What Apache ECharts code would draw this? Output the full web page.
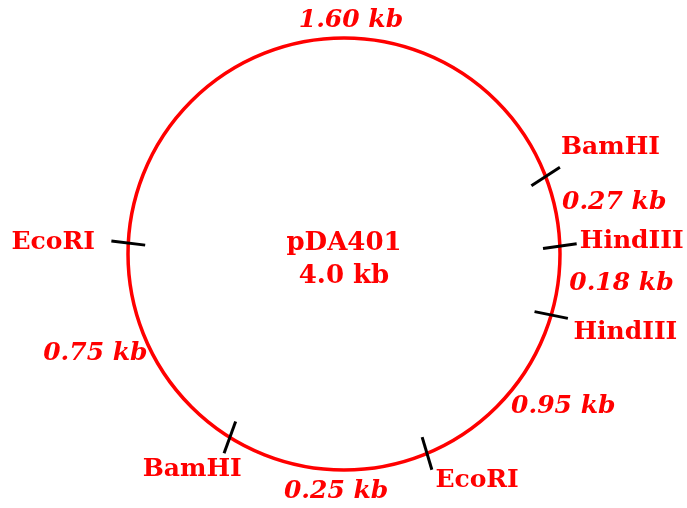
<!DOCTYPE html>
<html>
<head>
<meta charset="utf-8">
<script src="https://cdn.jsdelivr.net/npm/echarts@6/dist/echarts.min.js"></script>
<style>html,body{margin:0;padding:0;background:#fff}#c{width:687px;height:508px}</style>
</head>
<body>
<div id="c"></div>
<script>
// Plasmid data
const plasmidName = 'pDA401';
const plasmidSize = '4.0 kb';
// restriction sites: name and map position (degrees clockwise from 3 o'clock, as drawn)
const siteNames = ['BamHI', 'HindIII', 'HindIII', 'EcoRI', 'BamHI', 'EcoRI'];
const siteAngles = [339.0, 357.9, 16.4, 67.4, 121.9, 182.9];
// fragment lengths between sites
const fragmentLabels = ['0.27 kb', '0.18 kb', '0.95 kb', '0.25 kb', '0.75 kb', '1.60 kb'];

// layout (label placement in polar terms: radius px, angle deg)
const siteLabelPos = [[287, 338.2], [288, 357.6], [292, 15.5], [263, 59.6], [264, 125.1], [291, 182.2]];
const fragLabelPos = [[275, 349.3], [279, 6.0], [267, 34.8], [238, 91.9], [268, 158.1], [234, 271.7]];
const tickTilt = [-12, -6, -5, 6, -12, 4];

const R = 216;
const red = '#ff0000';
const nameFont = 'bold 25px "DejaVu Serif"';
const fragFont = 'italic bold 25px "DejaVu Serif"';

const chart = echarts.init(document.getElementById('c'), null, {renderer: 'canvas'});
chart.setOption({
  animation: false,
  backgroundColor: '#fff',
  polar: {center: [344, 254], radius: R},
  angleAxis: {
    type: 'value', min: 0, max: 360, startAngle: 0, clockwise: true,
    axisLine: {show: true, lineStyle: {color: red, width: 3.5}},
    axisTick: {show: false}, axisLabel: {show: false}, splitLine: {show: false}
  },
  radiusAxis: {type: 'value', min: 0, max: R, show: false, splitLine: {show: false}},
  series: [
    {
      type: 'custom', coordinateSystem: 'polar', clip: false,
      data: siteAngles.map((a, i) => [R, a, i]),
      renderItem: function (params, api) {
        const i = api.value(2);
        const a = api.value(1);
        const p = api.coord([R, a]);
        const dir = (a + tickTilt[i]) * Math.PI / 180;
        const h = 17;
        const lp = api.coord(siteLabelPos[i]);
        return {
          type: 'group',
          children: [
            {type: 'line', shape: {x1: p[0] - h * Math.cos(dir), y1: p[1] - h * Math.sin(dir), x2: p[0] + h * Math.cos(dir), y2: p[1] + h * Math.sin(dir)},
             style: {stroke: '#000', lineWidth: 3}},
            {type: 'text', style: {text: siteNames[i], x: lp[0], y: lp[1], align: 'center', verticalAlign: 'middle', font: nameFont, fill: red}}
          ]
        };
      }
    },
    {
      type: 'custom', coordinateSystem: 'polar', clip: false,
      data: fragmentLabels.map((t, i) => [fragLabelPos[i][0], fragLabelPos[i][1], i]),
      renderItem: function (params, api) {
        const i = api.value(2);
        const lp = api.coord([api.value(0), api.value(1)]);
        return {type: 'text', style: {text: fragmentLabels[i], x: lp[0], y: lp[1], align: 'center', verticalAlign: 'middle', font: fragFont, fill: red}};
      }
    }
  ],
  graphic: [
    {type: 'text', style: {text: plasmidName, x: 344, y: 243, align: 'center', verticalAlign: 'middle', font: 'bold 26px "DejaVu Serif"', fill: red}},
    {type: 'text', style: {text: plasmidSize, x: 344, y: 276, align: 'center', verticalAlign: 'middle', font: 'bold 26px "DejaVu Serif"', fill: red}}
  ]
});
</script>
</body>
</html>
